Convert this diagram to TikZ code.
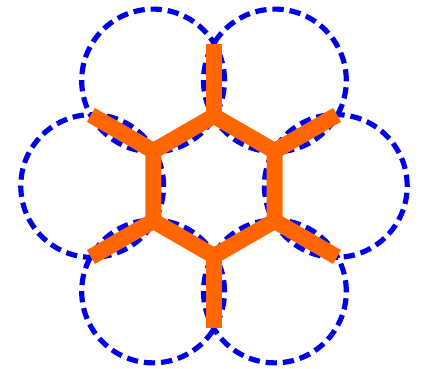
\documentclass[tikz,border=0pt]{standalone}
\definecolor{hexorange}{HTML}{FF6600}
\definecolor{ringblue}{HTML}{0000E6}
\usetikzlibrary{calc}

\begin{document}
\begin{tikzpicture}[x=1cm,y=1cm,
                    ring/.style={draw=ringblue,line width=2.1pt,dash pattern=on 4.6pt off 2.4pt},
                    bond/.style={draw=hexorange,line width=6.5pt,line join=miter}]
  \useasboundingbox (-3.057,-2.614) rectangle (2.957,2.657);
  % neighbouring rings
  \foreach \a in {0,60,...,300}
    \draw[ring] (\a:1.74) circle (1.02);
  % ring corners and outer bond ends
  \foreach \i/\a in {1/90,2/150,3/210,4/270,5/330,6/30} {
    \coordinate (v\i) at (\a:1);
    \coordinate (e\i) at (\a:2.03);
  }
  \draw[bond] (v1)--(v2)--(v3)--(v4)--(v5)--(v6)--cycle;
  \foreach \i in {1,...,6}
    \draw[bond] (v\i)--(e\i);
\end{tikzpicture}
\end{document}
